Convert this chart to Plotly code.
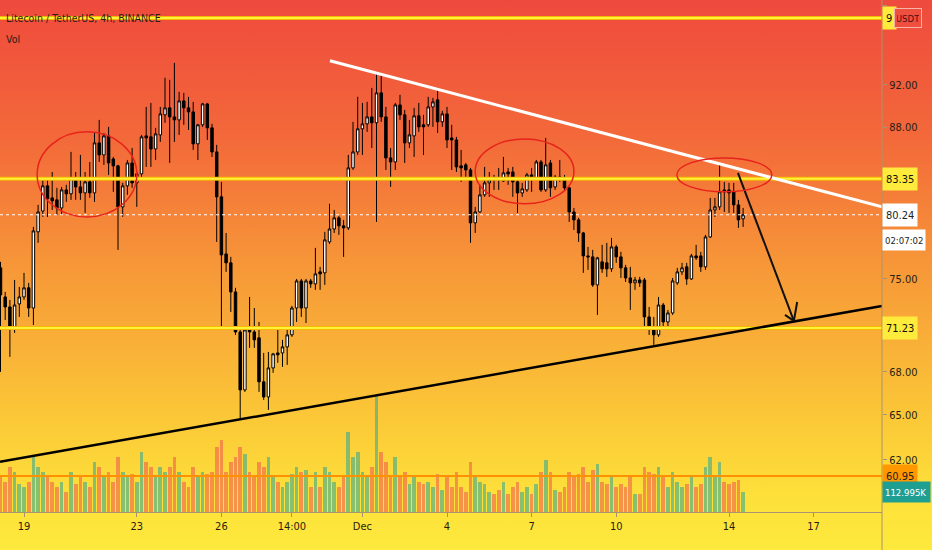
import base64
import math
import plotly.graph_objects as go

# ---------------- data (LTC/USDT 4h candles, index 0..158) ----------------
open_ = [75.88, 73.59, 72.82, 71.30, 73.05, 73.59, 74.30, 72.74, 78.81, 80.56,
         82.72, 81.68, 81.51, 80.82, 82.37, 82.03, 83.41, 82.63, 82.11, 83.07,
         82.11, 86.55, 85.46, 87.19, 85.10, 84.48, 80.91, 82.72, 84.74, 82.98,
         83.77, 87.19, 87.10, 86.00, 87.28, 89.14, 89.80, 88.95, 88.67, 90.46,
         89.80, 89.42, 86.46, 88.21, 90.17, 87.93, 85.73, 81.77, 77.00, 76.28,
         73.98, 70.93, 66.73, 71.15, 70.93, 70.49, 67.30, 66.24, 68.29, 69.38,
         69.38, 69.82, 70.71, 72.74, 74.84, 72.74, 74.84, 74.61, 75.56, 75.48,
         77.98, 79.05, 79.98, 79.31, 79.14, 84.30, 85.73, 87.84, 88.30, 88.95,
         88.40, 91.23, 88.95, 85.19, 84.83, 90.08, 89.14, 86.55, 87.19, 89.05,
         88.21, 88.21, 89.89, 90.56, 88.49, 89.23, 87.00, 86.82, 84.48, 84.57,
         84.12, 79.56, 80.48, 81.94, 82.98, 83.41, 83.41, 83.15, 83.94, 83.94,
         83.07, 82.11, 82.37, 83.68, 83.41, 84.83, 82.37, 84.74, 82.63, 83.50,
         83.41, 82.55, 80.48, 79.81, 78.72, 76.84, 76.76, 74.53, 76.36, 76.28,
         75.80, 77.57, 76.76, 75.88, 75.08, 74.69, 74.92, 74.92, 72.06, 71.23,
         70.71, 72.97, 71.68, 72.36, 74.69, 75.56, 75.96, 75.00, 76.84, 76.84,
         75.96, 78.39, 80.65, 80.91, 82.37, 82.37, 82.20, 81.08, 79.90]
high = [76.36, 73.98, 73.36, 74.92, 74.37, 75.48, 74.69, 79.22, 81.08, 83.41,
        83.50, 83.94, 82.55, 82.63, 82.81, 85.73, 83.94, 85.46, 83.94, 84.83,
        87.46, 88.67, 87.46, 88.02, 85.28, 84.57, 82.98, 85.01, 86.09, 83.94,
        87.28, 89.89, 90.27, 87.93, 89.89, 92.69, 92.49, 94.16, 91.33, 91.23,
        90.85, 90.37, 88.30, 90.27, 90.27, 88.30, 86.37, 83.07, 78.72, 76.76,
        74.30, 71.30, 71.30, 73.59, 72.74, 71.68, 69.38, 69.45, 69.38, 71.23,
        70.34, 71.08, 72.90, 75.00, 75.00, 75.00, 75.00, 77.49, 75.96, 78.81,
        81.17, 80.65, 80.15, 79.81, 85.46, 88.49, 90.85, 90.27, 90.37, 91.71,
        93.27, 92.98, 89.89, 86.09, 90.27, 91.04, 89.61, 88.67, 89.80, 90.27,
        89.14, 90.85, 90.75, 91.71, 89.52, 89.89, 88.21, 87.10, 85.91, 84.74,
        84.30, 80.91, 82.81, 84.39, 83.94, 83.68, 84.30, 85.28, 84.30, 84.39,
        83.41, 82.98, 83.86, 84.30, 85.01, 85.01, 87.00, 85.01, 83.68, 85.01,
        83.68, 82.63, 80.82, 79.98, 78.81, 77.57, 77.33, 76.76, 77.74, 77.90,
        78.31, 77.74, 77.17, 76.12, 75.96, 75.16, 75.16, 75.08, 72.82, 72.06,
        73.59, 73.13, 72.59, 75.08, 75.88, 76.28, 76.28, 77.00, 77.74, 77.17,
        78.56, 81.68, 81.68, 84.57, 83.07, 82.98, 82.98, 81.51, 80.82]
low = [68.01, 71.83, 69.09, 70.86, 72.06, 73.36, 72.06, 71.45, 77.90, 80.06,
       80.06, 80.65, 80.23, 80.23, 81.34, 81.51, 81.51, 81.51, 80.40, 81.68,
       81.34, 84.83, 84.57, 83.68, 82.20, 77.33, 80.06, 81.94, 82.55, 80.91,
       83.24, 84.39, 84.39, 85.01, 86.64, 88.40, 84.74, 86.64, 87.28, 88.21,
       87.74, 85.91, 85.01, 88.02, 86.82, 85.28, 77.98, 71.30, 75.56, 72.44,
       70.71, 64.66, 66.59, 69.75, 69.75, 66.59, 66.03, 65.34, 67.94, 68.66,
       68.37, 68.51, 70.56, 71.68, 72.06, 71.60, 74.30, 74.14, 74.14, 74.53,
       77.82, 78.72, 78.56, 76.76, 78.97, 84.12, 85.46, 85.46, 87.56, 86.09,
       79.64, 88.49, 84.12, 82.63, 84.12, 88.67, 84.74, 86.09, 85.28, 87.56,
       85.46, 88.02, 88.02, 87.46, 88.02, 86.09, 84.12, 83.94, 83.07, 83.41,
       77.90, 78.72, 80.40, 81.77, 81.77, 82.37, 82.37, 83.07, 82.81, 81.77,
       80.40, 81.77, 82.20, 82.20, 83.24, 82.20, 82.20, 81.77, 82.37, 83.07,
       82.37, 79.64, 78.97, 77.98, 75.48, 75.72, 74.37, 72.21, 75.48, 75.16,
       75.56, 76.28, 75.08, 74.76, 72.59, 74.14, 74.37, 71.08, 70.71, 69.97,
       70.56, 71.08, 71.30, 72.21, 74.53, 75.32, 74.53, 74.92, 76.52, 75.56,
       75.72, 78.31, 80.06, 80.65, 80.48, 80.40, 80.40, 79.14, 79.22]
close = [73.75, 72.82, 71.30, 72.97, 73.59, 74.30, 72.74, 78.89, 80.48, 82.72,
         81.60, 81.42, 80.82, 82.37, 82.03, 83.41, 82.63, 82.11, 83.07, 82.11,
         86.55, 85.46, 87.19, 84.74, 84.48, 80.91, 82.72, 84.74, 82.98, 83.77,
         87.10, 87.00, 86.00, 87.37, 89.23, 89.80, 88.95, 88.67, 90.46, 89.80,
         89.42, 86.46, 88.21, 90.17, 87.93, 85.73, 81.77, 76.92, 76.28, 73.98,
         70.93, 66.73, 71.08, 70.93, 70.34, 67.30, 66.24, 68.29, 69.31, 69.24,
         69.82, 70.71, 72.74, 74.84, 72.74, 74.84, 74.61, 75.40, 75.40, 78.15,
         79.05, 79.98, 79.31, 79.14, 84.30, 85.73, 87.84, 88.30, 88.95, 88.40,
         91.23, 88.95, 85.19, 84.83, 90.08, 89.14, 86.55, 87.28, 89.05, 88.02,
         88.02, 89.89, 90.37, 88.49, 89.23, 86.82, 86.82, 84.39, 84.30, 84.12,
         79.56, 80.48, 81.94, 82.98, 83.24, 83.33, 83.33, 83.86, 83.77, 83.07,
         82.11, 82.46, 83.68, 83.41, 84.83, 82.37, 84.57, 82.55, 83.50, 83.33,
         82.55, 80.48, 79.81, 78.72, 76.84, 76.76, 74.53, 76.68, 75.80, 75.80,
         77.57, 76.76, 75.88, 75.08, 74.69, 74.92, 74.69, 72.06, 71.23, 70.71,
         72.97, 71.68, 72.36, 74.84, 75.56, 75.88, 75.00, 76.84, 76.68, 75.96,
         78.39, 80.65, 80.91, 82.20, 82.20, 82.11, 81.08, 79.81, 80.24]
volume_k = [198, 170, 254, 226, 158, 141, 170, 311, 254, 226,
            198, 170, 141, 170, 113, 226, 158, 198, 170, 141,
            283, 254, 198, 226, 170, 311, 226, 198, 215, 170,
            339, 283, 254, 198, 254, 226, 254, 311, 226, 170,
            141, 254, 198, 226, 215, 226, 367, 407, 226, 283,
            311, 367, 328, 226, 198, 283, 254, 311, 198, 170,
            141, 170, 215, 254, 226, 237, 141, 226, 141, 254,
            226, 170, 141, 198, 452, 311, 339, 226, 198, 254,
            661, 339, 283, 198, 311, 198, 226, 158, 198, 170,
            158, 170, 141, 215, 124, 198, 141, 226, 141, 113,
            283, 198, 170, 158, 113, 102, 124, 170, 102, 141,
            170, 113, 141, 102, 158, 226, 294, 226, 124, 113,
            141, 226, 198, 215, 254, 170, 237, 271, 170, 158,
            198, 141, 158, 141, 198, 102, 102, 254, 226, 215,
            254, 198, 141, 226, 170, 141, 158, 198, 141, 158,
            254, 311, 198, 283, 170, 158, 170, 181, 112.995]

tick_pos = [5, 29, 47, 62, 77, 95, 113, 131, 155, 173]
tick_text = ["19", "23", "26", "14:00", "Dec", "4", "7", "10", "14", "17"]
price_ticks = [100, 92, 88, 75, 68, 65, 62]

# drawings (bar index, price)
level_top = 98.72
level_res = 83.35
level_sup = 71.23
level_low = 60.95
last_price = 80.24
last_volume_k = 112.995
white_trend = [(70.1, 94.36), (187.55, 80.91)]
black_trend = [(-0.1, 61.86), (187.55, 72.90)]
arrow_shaft = [(156.9, 83.86), (168.8, 71.76)]
arrow_legs = [(166.9, 72.21), (169.5, 73.20)]
ellipses = [((7.8, 29.0), (80.06, 87.56)),
            ((101.0, 122.0), (81.17, 86.91)),
            ((143.9, 164.1), (82.20, 85.19))]

X_RANGE = [-0.106, 187.55]
Y_RANGE = [math.log10(58.68), math.log10(100.6)]
VOL_MAX_K = 2892.7

FONT = "DejaVu Sans Condensed, DejaVu Sans, sans-serif"
TXT = "#2a1d14"

x = list(range(len(open_)))
vol_colors = ["rgba(38,166,154,0.55)" if c >= o else "rgba(239,83,80,0.55)"
              for o, c in zip(open_, close)]

fig = go.Figure()
fig.add_trace(go.Bar(x=x, y=volume_k, yaxis="y2", marker_color=vol_colors,
                     marker_line_width=0, width=0.8, hoverinfo="skip"))
fig.add_trace(go.Candlestick(
    x=x, open=open_, high=high, low=low, close=close,
    increasing=dict(line=dict(color="#000000", width=1), fillcolor="#ffffff"),
    decreasing=dict(line=dict(color="#000000", width=1), fillcolor="#000000"),
    whiskerwidth=0, hoverinfo="skip"))

shapes = []


def hline(p, color, width, dash="solid"):
    shapes.append(dict(type="line", xref="paper", x0=0, x1=1, yref="y",
                       y0=p, y1=p, line=dict(color=color, width=width, dash=dash)))


def seg(a, b, color, width):
    shapes.append(dict(type="line", xref="x", yref="y", x0=a[0], x1=b[0],
                       y0=a[1], y1=b[1], line=dict(color=color, width=width)))


hline(last_price, "#ffffff", 1, "dot")
for p in (level_top, level_res, level_sup):
    hline(p, "#f5b800", 4)
    hline(p, "#fff23a", 2)
hline(level_low, "#ff9100", 2)
seg(white_trend[0], white_trend[1], "#ffffff", 3)
seg(black_trend[0], black_trend[1], "#000000", 2.5)
seg(arrow_shaft[0], arrow_shaft[1], "#111111", 2)
seg(arrow_legs[0], arrow_shaft[1], "#111111", 2)
seg(arrow_legs[1], arrow_shaft[1], "#111111", 2)
for (xa, xb), (pa, pb) in ellipses:
    shapes.append(dict(type="circle", xref="x", yref="y", x0=xa, x1=xb,
                       y0=pa, y1=pb, line=dict(color="#e8231c", width=1.5)))
# right price-scale border running through the time scale
shapes.append(dict(type="line", xref="paper", yref="paper", x0=1, x1=1, y0=-0.08, y1=1,
                   line=dict(color="#a8946e", width=1)))

# background gradient
svg = ("<svg xmlns='http://www.w3.org/2000/svg' width='932' height='550' preserveAspectRatio='none'>"
       "<defs><linearGradient id='g' x1='0' y1='0' x2='0' y2='1'>"
       "<stop offset='0' stop-color='#ef4a3d'/>"
       "<stop offset='0.25' stop-color='#f3693a'/>"
       "<stop offset='0.5' stop-color='#f79a38'/>"
       "<stop offset='0.75' stop-color='#fbc637'/>"
       "<stop offset='0.9' stop-color='#fde03a'/>"
       "<stop offset='1' stop-color='#fee93c'/>"
       "</linearGradient></defs><rect width='932' height='550' fill='url(#g)'/></svg>")
src = "data:image/svg+xml;base64," + base64.b64encode(svg.encode()).decode()

annotations = [
    dict(xref="paper", yref="paper", x=0.004, y=0.965, xanchor="left", yanchor="middle",
         text="Litecoin / TetherUS, 4h, BINANCE", showarrow=False,
         font=dict(family=FONT, size=10.5, color=TXT)),
    dict(xref="paper", yref="paper", x=0.004, y=0.924, xanchor="left", yanchor="middle",
         text="Vol", showarrow=False, font=dict(family=FONT, size=10.5, color=TXT)),
]


def price_label(p, text, bg, fg, yref="y", yshift=0, width=28, size=11, pad=3):
    yv = math.log10(p) if yref == "y" else p
    annotations.append(dict(xref="paper", yref=yref, x=1.0, y=yv, xanchor="left",
                            yanchor="middle", text=text, showarrow=False, bgcolor=bg,
                            borderpad=pad, width=width, height=16, align="left",
                            yshift=yshift, font=dict(family=FONT, size=size, color=fg)))


price_label(level_top, "9", "#ffeb3b", "#111111", width=7)
price_label(level_res, f"{level_res:.2f}", "#ffeb3b", "#111111")
price_label(last_price, f"{last_price:.2f}", "#ffffff", "#222222")
price_label(last_price, "02:07:02", "#ffffff", "#222222", yshift=-25, width=38, size=9.5, pad=2)
price_label(level_sup, f"{level_sup:.2f}", "#ffeb3b", "#111111")
price_label(level_low, f"{level_low:.2f}", "#ff9800", "#222222")
price_label(last_volume_k, f"{last_volume_k:.3f}K", "#1f9e92", "#ffffff", yref="y2",
            width=43, size=9.5, pad=2)
annotations.append(dict(xref="paper", yref="paper", x=894 / 882, y=(512 - 18) / 512,
                        xanchor="left", yanchor="middle", text="USDT", showarrow=False,
                        bgcolor="#ef4f3f", bordercolor="#f7b3aa", borderwidth=1, borderpad=2,
                        width=22, height=14,
                        font=dict(family=FONT, size=9.5, color="#4a1010")))

fig.update_layout(
    width=932, height=550,
    margin=dict(l=0, r=50, t=0, b=38, pad=0),
    paper_bgcolor="#f79a38", plot_bgcolor="rgba(0,0,0,0)",
    showlegend=False, hovermode=False, bargap=0, boxgap=0.25,
    images=[dict(source=src, xref="paper", yref="paper", x=0, y=1,
                 sizex=932 / 882, sizey=550 / 512, xanchor="left", yanchor="top",
                 sizing="stretch", layer="below")],
    shapes=shapes, annotations=annotations,
    xaxis=dict(range=X_RANGE, rangeslider=dict(visible=False), showgrid=False,
               zeroline=False, tickmode="array", tickvals=tick_pos, ticktext=tick_text,
               ticks="outside", ticklen=4, tickcolor="#a8946e", showline=True,
               linecolor="#a8946e", linewidth=1,
               tickfont=dict(family=FONT, size=11, color=TXT)),
    yaxis=dict(type="log", range=Y_RANGE, side="right", showgrid=False, zeroline=False,
               tickmode="array", tickvals=price_ticks,
               ticktext=[f"{v:.2f}" for v in price_ticks],
               ticks="outside", ticklen=4, tickcolor="#a8946e", showline=False,
               tickfont=dict(family=FONT, size=11, color=TXT)),
    yaxis2=dict(overlaying="y", range=[0, VOL_MAX_K], visible=False, showgrid=False),
)

fig.write_html("out.html", config={"displayModeBar": False},
               post_script="document.body.style.margin='0px';")
